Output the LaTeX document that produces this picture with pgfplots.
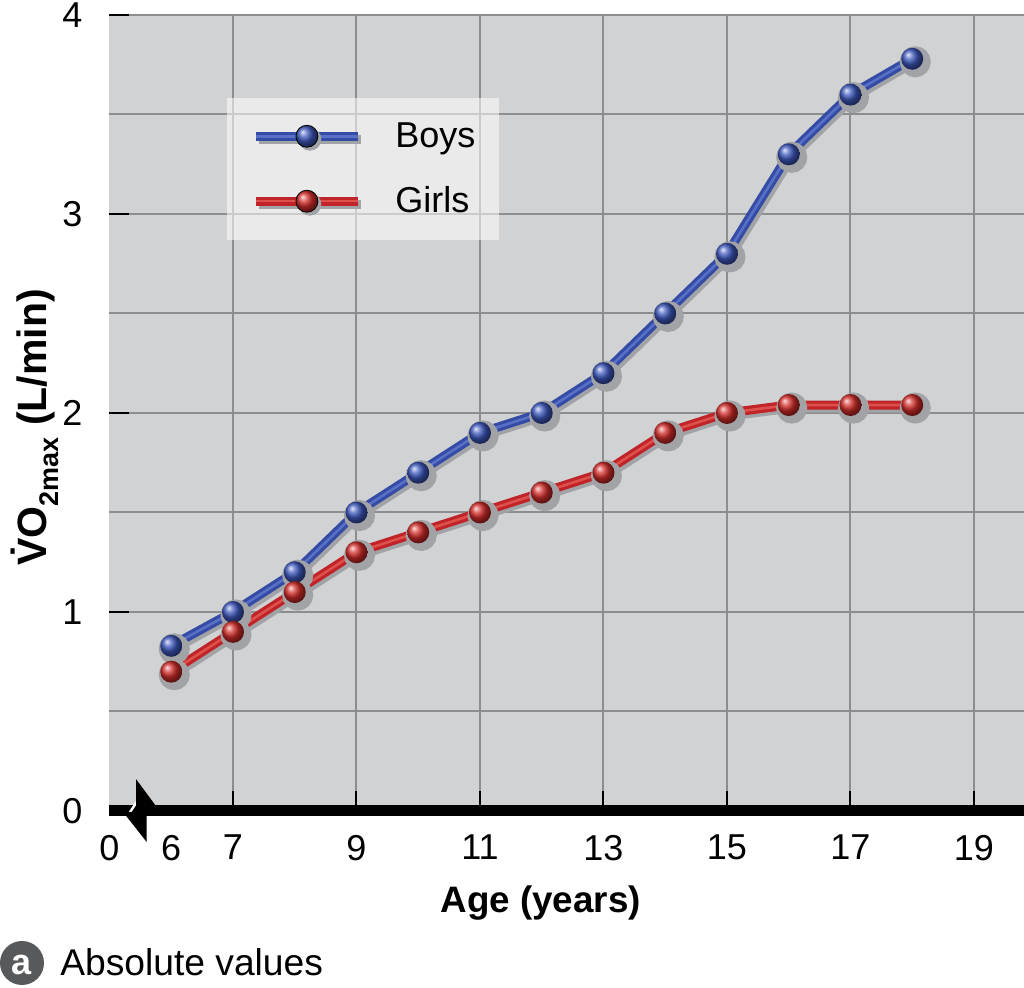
\documentclass[border=0pt]{standalone}
\usepackage{fontspec}
\setmainfont{Liberation Sans}
\usepackage{pgfplots}
\usepackage{pgfplotstable}
\pgfplotsset{compat=1.18}
\usetikzlibrary{shadings}

\definecolor{bggray}{RGB}{209,210,212}
\definecolor{gridgray}{RGB}{140,141,143}
\definecolor{boysdark}{RGB}{52,76,165}
\definecolor{boyslight}{RGB}{88,112,198}
\definecolor{boysball}{RGB}{62,88,190}
\definecolor{girlsdark}{RGB}{192,36,40}
\definecolor{girlslight}{RGB}{222,80,76}
\definecolor{girlsball}{RGB}{210,45,42}
\definecolor{shadowgray}{RGB}{162,163,166}
\definecolor{badge}{RGB}{88,89,91}

\pgfdeclareplotmark{ballB}{\shade[ball color=boysball, draw=none] (0pt,0pt) circle (\pgfplotmarksize);}
\pgfdeclareplotmark{ballG}{\shade[ball color=girlsball, draw=none] (0pt,0pt) circle (\pgfplotmarksize);}

\pgfplotstableread{
age vo2
6 0.83
7 1.00
8 1.20
9 1.50
10 1.70
11 1.90
12 2.00
13 2.20
14 2.50
15 2.80
16 3.30
17 3.60
18 3.78
}\boys

\pgfplotstableread{
age vo2
6 0.70
7 0.90
8 1.10
9 1.30
10 1.40
11 1.50
12 1.60
13 1.70
14 1.90
15 2.00
16 2.04
17 2.04
18 2.04
}\girls

\begin{document}
\begin{tikzpicture}
\begin{axis}[
  scale only axis, width=457.25pt, height=398pt,
  xmin=5, xmax=19.81, ymin=0, ymax=4,
  clip=false,
  axis background/.style={fill=bggray},
  axis line style={draw=none},
  xtick={7,9,...,19}, ytick={0,1,2,3,4}, minor ytick={0.5,1.5,2.5,3.5},
  extra x ticks={5,6}, extra x tick labels={0,6},
  extra x tick style={grid=none, tick style={draw=none}},
  xmajorgrids, ymajorgrids, yminorgrids,
  grid style={gridgray, line width=1pt},
  minor grid style={gridgray, line width=1pt},
  major tick length=10pt, minor tick length=0pt,
  tick align=inside, xtick pos=left, ytick pos=left,
  tick style={black, line width=1pt},
  /pgf/number format/assume math mode=true,
  tick label style={font=\fontsize{18}{18}\selectfont},
  xticklabel style={yshift=-8.5pt},
  yticklabel style={xshift=-10pt},
  xlabel={Age (years)},
  xlabel style={at={(axis description cs:0.4715,-0.1156)}, anchor=center, font=\bfseries\fontsize{18.4}{22}\selectfont},
  ylabel={\.{V}O\raisebox{-0.3em}{\fontsize{13.5}{13.5}\selectfont 2max}\ (L/min)},
  ylabel style={at={(axis description cs:-0.0815,0.482)}, anchor=center, font=\bfseries\fontsize{20.5}{22}\selectfont},
  legend style={at={(axis cs:6.903,3.583)}, anchor=north west, draw=none,
    fill=white, fill opacity=0.55, text opacity=1,
    inner xsep=12pt, inner ysep=12pt, row sep=18pt,
    font=\fontsize{18}{18}\selectfont, nodes={inner sep=0pt},
    /tikz/every odd column/.append style={column sep=15pt}},
  legend cell align=left,
]
% shadows
\addplot[shadowgray, line width=4.5pt, xshift=1.5pt, yshift=-1.5pt, mark=*, mark size=5.5pt, forget plot] table[x=age,y=vo2] {\boys};
\addplot[shadowgray, line width=4.5pt, xshift=1.5pt, yshift=-1.5pt, mark=*, mark size=5.5pt, forget plot] table[x=age,y=vo2] {\girls};
% boys
\addplot[boysdark, line width=4.5pt, forget plot] table[x=age,y=vo2] {\boys};
\addplot[boyslight, line width=1.3pt, forget plot] table[x=age,y=vo2] {\boys};
\addplot[only marks, mark=ballB, mark size=5.5pt, mark options={draw opacity=0},
  legend image code/.code={
    \draw[shadowgray, line width=4.5pt, opacity=1] (1.5pt,-1.5pt) -- (52.5pt,-1.5pt);
    \draw[boysdark, line width=4.5pt, opacity=1] (0pt,0pt) -- (51pt,0pt);
    \draw[boyslight, line width=1.3pt, opacity=1] (0pt,0pt) -- (51pt,0pt);
    \fill[shadowgray, opacity=1] (27pt,-1.5pt) circle (5.5pt);
    \shade[ball color=boysball, opacity=1] (25.5pt,0pt) circle (5.5pt);
  }] table[x=age,y=vo2] {\boys};
\addlegendentry{Boys}
% girls
\addplot[girlsdark, line width=4.5pt, forget plot] table[x=age,y=vo2] {\girls};
\addplot[girlslight, line width=1.3pt, forget plot] table[x=age,y=vo2] {\girls};
\addplot[only marks, mark=ballG, mark size=5.5pt, mark options={draw opacity=0},
  legend image code/.code={
    \draw[shadowgray, line width=4.5pt, opacity=1] (1.5pt,-1.5pt) -- (52.5pt,-1.5pt);
    \draw[girlsdark, line width=4.5pt, opacity=1] (0pt,0pt) -- (51pt,0pt);
    \draw[girlslight, line width=1.3pt, opacity=1] (0pt,0pt) -- (51pt,0pt);
    \fill[shadowgray, opacity=1] (27pt,-1.5pt) circle (5.5pt);
    \shade[ball color=girlsball, opacity=1] (25.5pt,0pt) circle (5.5pt);
  }] table[x=age,y=vo2] {\girls};
\addlegendentry{Girls}
% thick x axis with break
\draw[black, line width=5.5pt] (axis cs:5,0) -- (axis cs:19.81,0);
\draw[white, line width=1.2pt] (axis cs:5.25,-0.045) -- (axis cs:5.44,0.045);
\fill[black] (axis cs:5.43,0.16) -- (axis cs:5.43,0.005) -- (axis cs:5.8,0.005) -- cycle;
\fill[black] (axis cs:5.6,-0.155) -- (axis cs:5.6,-0.005) -- (axis cs:5.22,-0.005) -- cycle;
\end{axis}
\fill[badge] (-43.75pt,-76pt) circle (11pt);
\node[white, font=\bfseries\fontsize{18}{18}\selectfont, inner sep=0pt] at (-43.75pt,-77pt) {a};
\node[anchor=west, font=\fontsize{18.6}{20}\selectfont, inner sep=0pt] at (-24.75pt,-75.5pt) {Absolute values};
\pgfresetboundingbox
\useasboundingbox (-54.75pt,-88.5pt) rectangle (457.25pt,405.5pt);
\end{tikzpicture}
\end{document}
